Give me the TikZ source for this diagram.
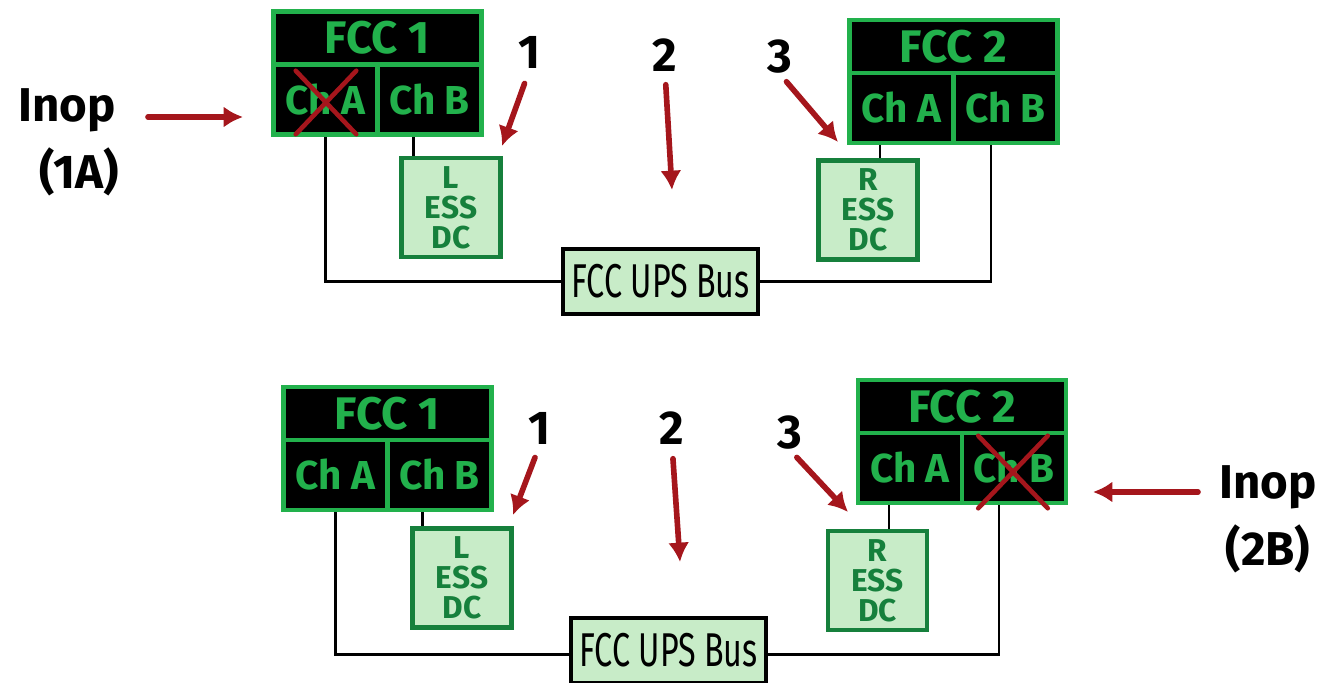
\documentclass[tikz,border=0pt]{standalone}
\usepackage{fontspec}
\setmainfont{Fira Sans}
\usepackage{xcolor}
\usetikzlibrary{positioning, arrows.meta, backgrounds, shapes.misc}

\definecolor{fccgreen}{RGB}{34,177,76}
\definecolor{essfill}{RGB}{200,236,200}
\definecolor{essgreen}{RGB}{22,128,60}
\definecolor{inopred}{RGB}{165,22,28}

\begin{document}
\begin{tikzpicture}[x=0.02cm, y=-0.02cm, >=Latex]

\useasboundingbox (0,0) rectangle (1333,683);

% --- Style Definitions ---
% FCC boxes (black with green frame)
\tikzstyle{fcc_title}=[rectangle, draw=fccgreen, line width=2.8pt, fill=black, outer sep=0pt, inner sep=0pt, minimum width=4.16cm, minimum height=1.06cm, text=fccgreen, font=\fontsize{26}{26}\selectfont\bfseries]
\tikzstyle{ch_node}=[rectangle, draw=fccgreen, line width=2.8pt, fill=black, outer sep=0pt, inner sep=0pt, minimum width=2.08cm, minimum height=1.4cm, text=fccgreen, font=\fontsize{23}{23}\selectfont\bfseries]
% ESS DC boxes (light green)
\tikzstyle{ess_node}=[rectangle, draw=essgreen, line width=2.4pt, fill=essfill, outer sep=0pt, inner sep=0pt, minimum width=1.98cm, minimum height=1.98cm, text=essgreen, align=center, font=\fontsize{18}{17}\selectfont\bfseries]
% UPS bus box
\tikzstyle{bus_node}=[rectangle, draw=black, line width=1.8pt, fill=essfill, outer sep=0pt, inner sep=0pt, minimum width=3.9cm, minimum height=1.3cm, font=\fontsize{27}{27}\selectfont]
% Labels
\tikzstyle{num_label}=[inner sep=0pt, font=\fontsize{27}{27}\selectfont\bfseries]
\tikzstyle{inop_label}=[inner sep=0pt, font=\fontsize{27}{27}\selectfont\bfseries]
% Red marks
\tikzstyle{x_mark}=[cross out, draw=inopred, line width=2.6pt, line cap=round, inner sep=0pt]
\tikzstyle{red_arrow}=[-{Latex[length=11pt, width=12pt]}, line width=3.2pt, draw=inopred, line cap=round]
\tikzstyle{wire}=[line width=1.7pt, draw=black]

% --- Top picture ---
\node[fcc_title] (FCC1a) at (377.5,38) {FCC 1};
\node[ch_node, below right=0cm of FCC1a.south west] (ChA1a) {Ch A};
\node[ch_node, right=0cm of ChA1a] (ChB1a) {Ch B};

\node[fcc_title] (FCC2a) at (953.5,46.5) {FCC 2};
\node[ch_node, below right=0cm of FCC2a.south west] (ChA2a) {Ch A};
\node[ch_node, right=0cm of ChA2a] (ChB2a) {Ch B};

\node[ess_node] (Lbox_a) at (451,207.5) {L\\ESS\\DC};
\node[ess_node] (Rbox_a) at (868,210) {R\\ESS\\DC};
\node[bus_node] (Bus_a) at (660.5,281.5) {\scalebox{0.68}[1]{FCC UPS Bus}};

\node[x_mark, minimum width=1.12cm, minimum height=1.18cm] (xA1a) at (326,102.5) {};

% --- Bottom picture ---
\node[fcc_title] (FCC1b) at (387.5,413.5) {FCC 1};
\node[ch_node, below right=0cm of FCC1b.south west] (ChA1b) {Ch A};
\node[ch_node, right=0cm of ChA1b] (ChB1b) {Ch B};

\node[fcc_title] (FCC2b) at (962,406.5) {FCC 2};
\node[ch_node, below right=0cm of FCC2b.south west] (ChA2b) {Ch A};
\node[ch_node, right=0cm of ChA2b] (ChB2b) {Ch B};

\node[ess_node] (Lbox_b) at (462,578) {L\\ESS\\DC};
\node[ess_node] (Rbox_b) at (877.5,580.5) {R\\ESS\\DC};
\node[bus_node] (Bus_b) at (668.5,650.5) {\scalebox{0.68}[1]{FCC UPS Bus}};

\node[x_mark, minimum width=1.3cm, minimum height=1.36cm] (xB2b) at (1013,472) {};

% --- Wiring (behind the boxes) ---
\coordinate (la_in) at ([xshift=0.23cm]Lbox_a.north west);
\coordinate (ra_in) at ([xshift=0.24cm]Rbox_a.north);
\coordinate (lb_in) at ([xshift=0.19cm]Lbox_b.north west);
\coordinate (rb_in) at ([xshift=0.23cm]Rbox_b.north);
\begin{scope}[on background layer]
\draw[wire] (ChA1a.south) |- (Bus_a.west);
\draw[wire] (la_in |- ChB1a.south) -- (la_in);
\draw[wire] (ra_in |- ChA2a.south) -- (ra_in);
\draw[wire] ([xshift=-0.29cm]ChB2a.south) |- (Bus_a.east);

\draw[wire] (ChA1b.south) |- ([yshift=-0.07cm]Bus_b.west);
\draw[wire] (lb_in |- ChB1b.south) -- (lb_in);
\draw[wire] (rb_in |- ChA2b.south) -- (rb_in);
\draw[wire] ([xshift=-0.3cm]ChB2b.south) |- ([yshift=-0.07cm]Bus_b.east);
\end{scope}

% --- Numbered arrows ---
\node[num_label] (n1a) at (530,52) {1};
\node[num_label] (n2a) at (665,55) {2};
\node[num_label] (n3a) at (780,57) {3};
\coordinate (t1a) at (502,146);
\coordinate (t2a) at (672,190);
\coordinate (t3a) at (838,142);
\draw[red_arrow, shorten <=0.32cm] (n1a.south) -- (t1a);
\draw[red_arrow, shorten <=0.26cm] (n2a.south) -- (t2a);
\draw[red_arrow, shorten <=0.2cm] (n3a.south) -- (t3a);

\node[num_label] (n1b) at (540,428) {1};
\node[num_label] (n2b) at (672,428) {2};
\node[num_label] (n3b) at (790,433) {3};
\coordinate (t1b) at (513,515);
\coordinate (t2b) at (680,562);
\coordinate (t3b) at (848,512);
\draw[red_arrow, shorten <=0.28cm] (n1b.south) -- (t1b);
\draw[red_arrow, shorten <=0.28cm] (n2b.south) -- (t2b);
\draw[red_arrow, shorten <=0.2cm] (n3b.south) -- (t3b);

% --- Inop labels ---
\node[inop_label] (inop_a) at (67,110) {Inop};
\node[inop_label, below=0.3cm of inop_a, xshift=0.24cm] (inop_a2) {(1A)};
\coordinate (tip_a) at (243,117);
\draw[red_arrow, shorten <=0.64cm] (inop_a.east |- tip_a) -- (tip_a);

\node[inop_label] (inop_b) at (1268,487) {Inop};
\node[inop_label, below=0.3cm of inop_b] (inop_b2) {(2B)};
\coordinate (tip_b) at (1093,492);
\draw[red_arrow, shorten <=0.42cm] (inop_b.west |- tip_b) -- (tip_b);

\end{tikzpicture}
\end{document}
